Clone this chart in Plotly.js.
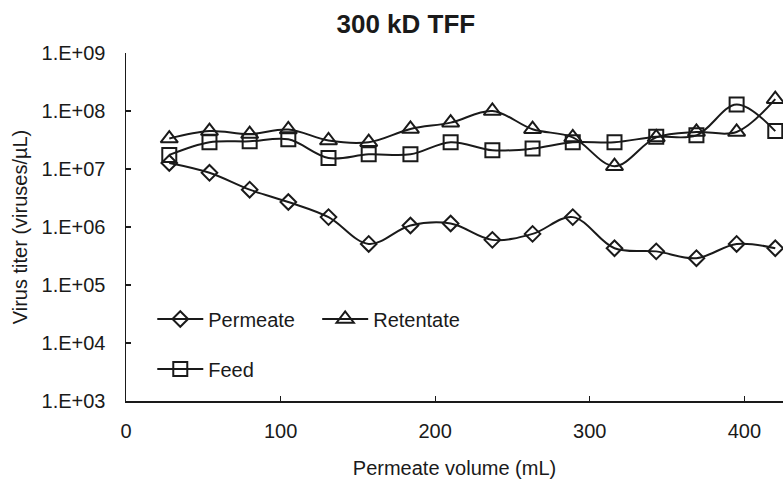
<!DOCTYPE html>
<html>
<head>
<meta charset="utf-8">
<script src="https://cdn.plot.ly/plotly-3.0.1.min.js"></script>
<style>html,body{margin:0;padding:0;background:#fff;}#chart{width:783px;height:491px;}</style>
</head>
<body>
<div id="chart"></div>
<script>
// Permeate volume (mL)
const volume = [28, 54, 80, 105, 131, 157, 184, 210, 237, 263, 289, 316, 343, 369, 395, 420];
// Virus titer (viruses/µL)
const permeate = [1.27e7, 8.6e6, 4.4e6, 2.7e6, 1.48e6, 5.1e5, 1.06e6, 1.15e6, 6.0e5, 7.6e5, 1.48e6, 4.3e5, 3.8e5, 2.9e5, 5.1e5, 4.3e5];
const retentate = [3.35e7, 4.5e7, 4.0e7, 4.8e7, 3.1e7, 2.9e7, 4.9e7, 6.3e7, 1.0e8, 4.85e7, 3.5e7, 1.12e7, 3.5e7, 4.35e7, 4.35e7, 1.6e8];
const feed = [1.75e7, 2.9e7, 3.0e7, 3.25e7, 1.55e7, 1.79e7, 1.79e7, 2.9e7, 2.1e7, 2.25e7, 2.9e7, 2.9e7, 3.6e7, 3.8e7, 1.3e8, 4.5e7];
const yTickVals = [1e3, 1e4, 1e5, 1e6, 1e7, 1e8, 1e9];
const yTickText = ["1.E+03", "1.E+04", "1.E+05", "1.E+06", "1.E+07", "1.E+08", "1.E+09"];
const xTickVals = [0, 100, 200, 300, 400];

const ink = "#1a1a1a";
const FONT = "Liberation Sans, Arial, sans-serif";

function series(name, y, symbol, size, legendId) {
  return {
    type: "scatter", mode: "lines+markers", name: name, x: volume, y: y,
    line: {color: ink, width: 2, shape: "spline", smoothing: 1},
    marker: {symbol: symbol, size: size, color: ink, line: {color: ink, width: 2}},
    legend: legendId, cliponaxis: false
  };
}

const data = [
  series("Permeate", permeate, "diamond-open", 12, "legend"),
  series("Retentate", retentate, "triangle-up-open", 15, "legend2"),
  series("Feed", feed, "square-open", 14, "legend3")
];

const legendBase = {
  bgcolor: "rgba(0,0,0,0)", borderwidth: 0,
  font: {family: FONT, size: 20, color: ink},
  xanchor: "left", yanchor: "middle", orientation: "h", itemwidth: 46
};

const layout = {
  width: 783, height: 491,
  margin: {l: 126, r: 0, t: 53, b: 90, pad: 0},
  paper_bgcolor: "#fff", plot_bgcolor: "#fff",
  font: {family: FONT, size: 20, color: ink},
  title: {text: "<b>300 kD TFF</b>", font: {family: FONT, size: 26, color: ink},
          xref: "paper", x: 0.426, xanchor: "center", yref: "container", y: 0.952, yanchor: "middle"},
  showlegend: true,
  legend: Object.assign({}, legendBase, {x: 0.040, y: 0.2356}),
  legend2: Object.assign({}, legendBase, {x: 0.291, y: 0.2356}),
  legend3: Object.assign({}, legendBase, {x: 0.040, y: 0.092}),
  xaxis: {
    range: [0, 425], tickvals: xTickVals, ticks: "inside", ticklen: 5, tickwidth: 1.2, tickcolor: ink,
    showline: true, linecolor: ink, linewidth: 1.5, showgrid: false, zeroline: false,
    tickfont: {family: FONT, size: 20, color: ink}, ticklabelstandoff: 11,
    title: {text: "Permeate volume (mL)", font: {family: FONT, size: 20, color: ink}, standoff: 20},
    automargin: false
  },
  yaxis: {
    type: "log", range: [3, 9], tickvals: yTickVals, ticktext: yTickText,
    ticks: "inside", ticklen: 5, tickwidth: 1.2, tickcolor: ink,
    showline: true, linecolor: ink, linewidth: 1.5, showgrid: false, zeroline: false,
    tickfont: {family: FONT, size: 20, color: ink}, ticklabelstandoff: 15,
    title: {text: "Virus titer (viruses/µL)", font: {family: FONT, size: 20, color: ink}, standoff: 8},
    automargin: false
  }
};

Plotly.newPlot("chart", data, layout, {staticPlot: true, displayModeBar: false});
</script>
</body>
</html>
